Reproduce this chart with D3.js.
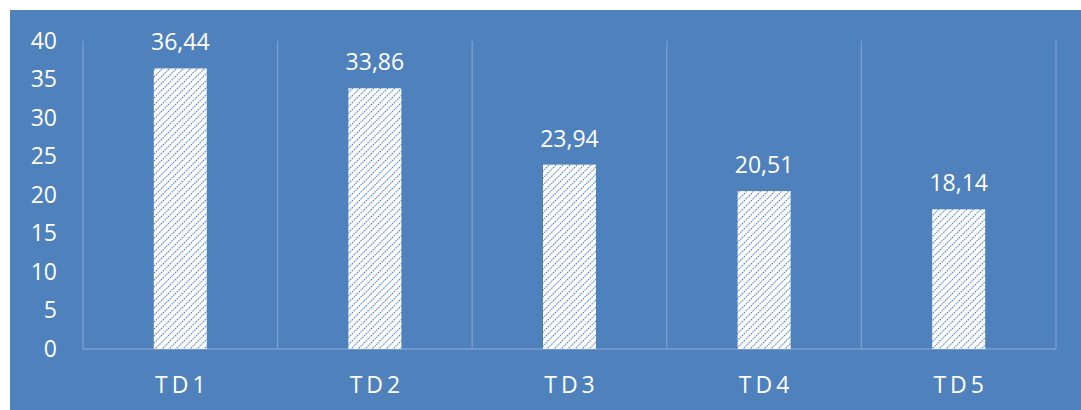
<!DOCTYPE html>
<html><head><meta charset="utf-8">
<script src="https://cdn.jsdelivr.net/npm/d3@7"></script>
<style>body{margin:0;background:#fff}svg{display:block}text{font-family:"Open Sans",sans-serif;fill:#fff}</style>
</head><body>
<script>
const categories = ["TD1","TD2","TD3","TD4","TD5"];
const values = [36.44,33.86,23.94,20.51,18.14];
const valueLabels = ["36,44","33,86","23,94","20,51","18,14"];
const yTicks = [0,5,10,15,20,25,30,35,40];

(function(){
const W=1081,H=410;
const svg=d3.select("body").append("svg").attr("width",W).attr("height",H);
const defs=svg.append("defs");
const pat=defs.append("pattern").attr("id","hatch").attr("patternUnits","userSpaceOnUse").attr("width",7).attr("height",7);
pat.append("rect").attr("width",7).attr("height",7).attr("fill","#fff");
pat.append("path").attr("d","M-1,1 l2,-2 M0,7 l7,-7 M6,8 l2,-2").attr("stroke","#5B89C2").attr("stroke-width",1.15).attr("stroke-dasharray","1.6,0.9");

svg.append("rect").attr("x",10).attr("y",10).attr("width",W-10).attr("height",H-10).attr("fill","#4F81BD");

const mL=83,mR=1056,mT=41,mB=349;
const x=d3.scaleBand().domain(categories).range([mL,mR]).paddingInner(0).paddingOuter(0);
const y=d3.scaleLinear().domain([0,40]).range([mB,mT]);
const grid="#7B9ED0";

const seps=categories.map(c=>x(c)).concat([mR]);
svg.append("g").selectAll("line").data(seps).join("line")
  .attr("x1",d=>d).attr("x2",d=>d).attr("y1",mT).attr("y2",mB)
  .attr("stroke",grid).attr("stroke-width",1.3);
svg.append("line").attr("x1",mL).attr("x2",mR).attr("y1",mB).attr("y2",mB).attr("stroke",grid).attr("stroke-width",1.3);

const yAxis=d3.axisLeft(y).tickValues(yTicks).tickSize(0).tickPadding(0);
const ya=svg.append("g").attr("transform","translate(57,0)").call(yAxis);
ya.select(".domain").remove();
ya.selectAll("text").attr("font-size",23).attr("fill","#fff").attr("font-family","Open Sans");

const bw=53;
svg.append("g").selectAll("rect").data(values).join("rect")
  .attr("x",(d,i)=>x(categories[i])+x.bandwidth()/2-bw/2)
  .attr("width",bw)
  .attr("y",d=>y(d)).attr("height",d=>mB-y(d))
  .attr("fill","url(#hatch)");

svg.append("g").selectAll("text").data(values).join("text")
  .attr("x",(d,i)=>x(categories[i])+x.bandwidth()/2)
  .attr("y",d=>y(d)-18)
  .attr("text-anchor","middle").attr("font-size",23)
  .text((d,i)=>valueLabels[i]);

const xAxis=d3.axisBottom(x).tickSize(0).tickPadding(0);
const xa=svg.append("g").attr("transform","translate(0,"+mB+")").call(xAxis);
xa.select(".domain").remove();
xa.selectAll("text").attr("font-size",23).attr("fill","#fff").attr("font-family","Open Sans")
  .attr("dy",0).attr("y",44).attr("letter-spacing","4px").attr("dx","2px");
})();
</script>
</body></html>
